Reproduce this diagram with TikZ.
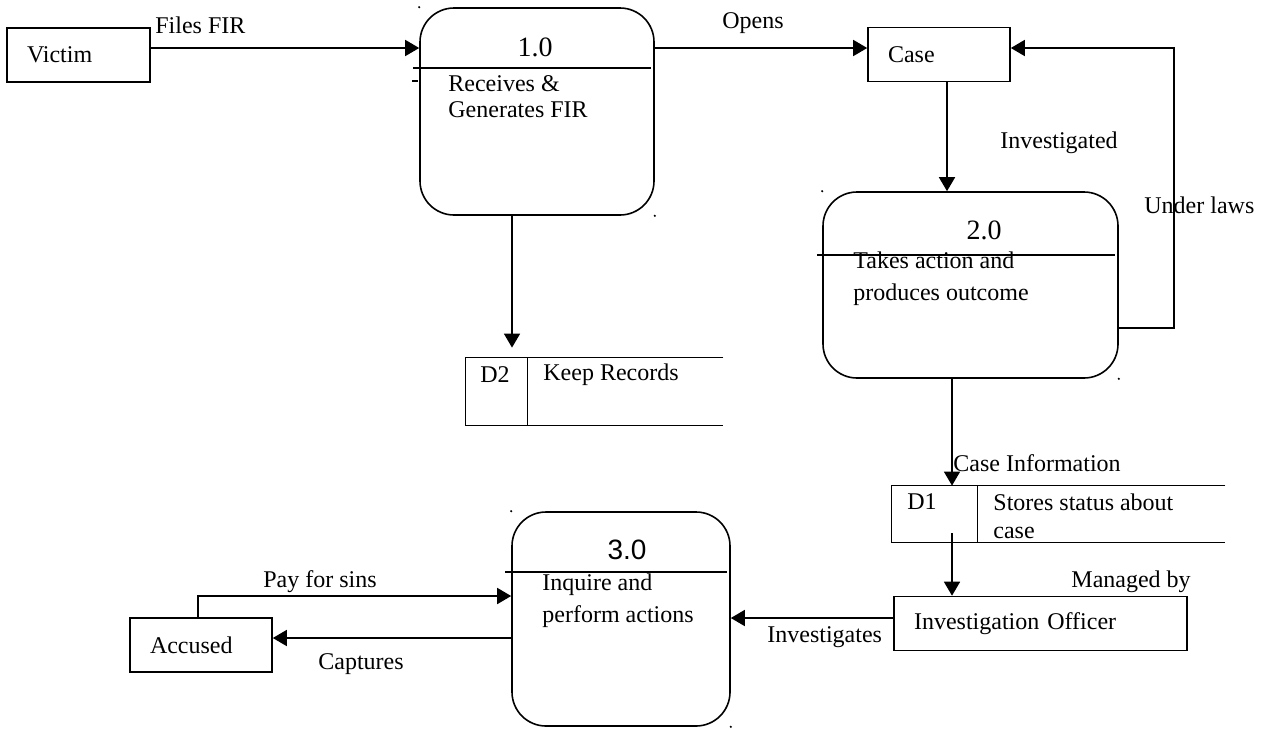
\documentclass[tikz,border=0pt]{standalone}
\usepackage{fontspec}
\setmainfont{Liberation Serif}
\newfontfamily\procsans{Liberation Sans}
\usetikzlibrary{arrows.meta}

\begin{document}
\begin{tikzpicture}[x=0.5pt, y=-0.5pt,
    font=\fontsize{12pt}{14pt}\selectfont,
    flow/.style={-{Triangle[length=7pt,width=8pt]}, line width=0.8pt},
    entity/.style={draw, line width=0.8pt, minimum height=27pt,
        inner xsep=10pt, text width=#1, align=left},
    entity/.default=51pt,
    process/.style={draw, line width=0.8pt, rounded corners=17pt, inner sep=0pt},
    procid/.style={font=\fontsize{14pt}{16pt}\selectfont},
    store/.style={inner sep=0pt},
    desc/.style={anchor=west, inner sep=0pt, align=left,
        font=\fontsize{12pt}{#1}\selectfont},
    lbl/.style={anchor=west, inner sep=0pt}]
    \useasboundingbox (0,0) rectangle (1262,729);

    % external entities
    \node[entity=51.5pt] (victim) at (78.5,55) {Victim};
    \node[entity] (case) at (939,54.5) {Case};
    \node[entity] (accused) at (201,645) {Accused};
    \node[entity=126.5pt] (officer) at (1040.5,623.5) {Investigation Officer};

    % processes
    \node[process, minimum width=117pt, minimum height=103.5pt] (p1) at (537,111.5) {};
    \node[process, minimum width=147.5pt, minimum height=93pt] (p2) at (970.5,285) {};
    \node[process, minimum width=109pt, minimum height=107pt] (p3) at (621,619) {};
    \draw[line width=0.8pt] ([shift={(-6,61)}]p1.north west) -- ([shift={(-4,61)}]p1.north east);
    \draw[line width=0.8pt] ([shift={(-5,64)}]p2.north west) -- ([shift={(-4,64)}]p2.north east);
    \draw[line width=0.8pt] ([shift={(-6,61)}]p3.north west) -- ([shift={(-4,61)}]p3.north east);
    \node[procid] (n1) at (535,47) {1.0};
    \node[procid] (n2) at (984,230) {2.0};
    \node[font=\procsans\fontsize{14pt}{16pt}\selectfont] (n3) at (627,550) {3.0};
    \node[desc=13pt] (t1) at (448,97) {Receives \&\\Generates FIR};
    \node[desc=16pt] (t2) at (853,279) {Takes action and\\produces outcome};
    \node[desc=16pt] (t3) at (542,601) {Inquire and\\perform actions};

    % corner marks
    \foreach \p in {p1,p2,p3} {
        \fill (\p.north west) circle (0.6pt);
        \fill (\p.south east) circle (0.6pt);
    }
    \draw[line width=0.8pt] ([shift={(-7,74)}]p1.north west) -- ++(6,0);

    % data stores
    \node[store, minimum width=128.5pt, minimum height=33.5pt] (d2) at (594.5,391.5) {};
    \draw[line width=0.6pt] (d2.north east) -- (d2.north west) -- (d2.south west) -- (d2.south east);
    \draw[line width=0.6pt] ([xshift=31pt]d2.north west) -- ([xshift=31pt]d2.south west);
    \node[lbl] (d2id) at (480,375) {D2};
    \node[lbl] (d2txt) at (543,375) {Keep Records};
    \node[store, minimum width=166.5pt, minimum height=28pt] (d1) at (1058.5,514) {};
    \draw[line width=0.6pt] (d1.north east) -- (d1.north west) -- (d1.south west) -- (d1.south east);
    \draw[line width=0.6pt] ([xshift=43pt]d1.north west) -- ([xshift=43pt]d1.south west);
    \node[lbl] (d1id) at (907,502) {D1};
    \node[desc=14pt] (d1txt) at (993,516) {Stores status about\\case};

    % flows
    \draw[flow] ([yshift=3.5pt]victim.east) -- ([yshift=3.5pt]victim.east -| p1.west);
    \draw[flow] ([yshift=3.25pt]case.west -| p1.east) -- ([yshift=3.25pt]case.west);
    \draw[flow, shorten >=5pt] ([xshift=-12.5pt]p1.south) -- ([xshift=-12.5pt]p1.south |- d2.north);
    \draw[flow] ([xshift=4pt]case.south) -- ([xshift=4pt]case.south |- p2.north);
    \coordinate (law) at (1174,48);
    \draw[flow] ([yshift=-21.5pt]p2.east) -| (law) -- (law -| case.east);
    \draw[flow] ([xshift=-9.25pt]p2.south) -- ([xshift=-9.25pt]p2.south |- d1.north);
    \coordinate (d1out) at (952,533);
    \draw[flow] (d1out) -- (d1out |- officer.north);
    \draw[flow] ([yshift=2.75pt]officer.west) -- ([yshift=2.75pt]officer.west -| p3.east);
    \draw[flow] ([xshift=-1.5pt]accused.north) |- ([yshift=11.5pt]p3.west);
    \draw[flow] ([yshift=-9.5pt]p3.west) -- ([yshift=-9.5pt]p3.west -| accused.east);

    % flow labels
    \node[lbl] (lfiles) at (155,25) {Files FIR};
    \node[lbl] (lopens) at (722,23) {Opens};
    \node[lbl] (linvd) at (1000,143) {Investigated};
    \node[lbl] (llaws) at (1144,205) {Under laws};
    \node[lbl] (lcinfo) at (953,463) {Case Information};
    \node[lbl] (lmanaged) at (1071,582) {Managed by};
    \node[lbl] (linvs) at (767,637) {Investigates};
    \node[lbl] (lpay) at (263,582) {Pay for sins};
    \node[lbl] (lcapt) at (318,664) {Captures};
\end{tikzpicture}
\end{document}
